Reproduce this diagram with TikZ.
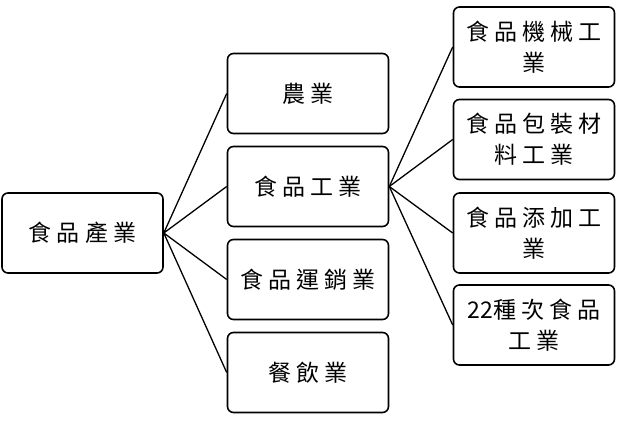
\documentclass[tikz,border=0pt]{standalone}
\usepackage{fontspec}
\newfontfamily\cjk[LetterSpace=22]{Noto Sans CJK TC}
\newfontfamily\cjktight{Noto Sans CJK TC}
\begin{document}
\begin{tikzpicture}[x=1pt,y=-1pt,
  box/.style={draw, rounded corners=6pt, line width=1.6pt, minimum width=161pt, minimum height=80pt, inner sep=0pt, align=center, font=\cjk\fontsize{23}{31}\selectfont},
  link/.style={line width=1.3pt}]
\useasboundingbox (0,0) rectangle (621,431);
\node[box] (root) at (82.5,233) {食品產業};
\node[box] (m1) at (308,93.5) {農業};
\node[box] (m2) at (308,186.5) {食品工業};
\node[box] (m3) at (308,279.5) {食品運銷業};
\node[box] (m4) at (308,372.5) {餐飲業};
\node[box] (r1) at (534,47) {食品機械工\\業};
\node[box] (r2) at (534,139.5) {食品包裝材\\料工業};
\node[box] (r3) at (534,233) {食品添加工\\業};
\node[box] (r4) at (534,325) {{\cjktight 22}種次食品\\工業};
\foreach \m in {m1,m2,m3,m4} \draw[link] (root.east) -- (\m.west);
\foreach \r in {r1,r2,r3,r4} \draw[link] (m2.east) -- (\r.west);
\end{tikzpicture}
\end{document}
